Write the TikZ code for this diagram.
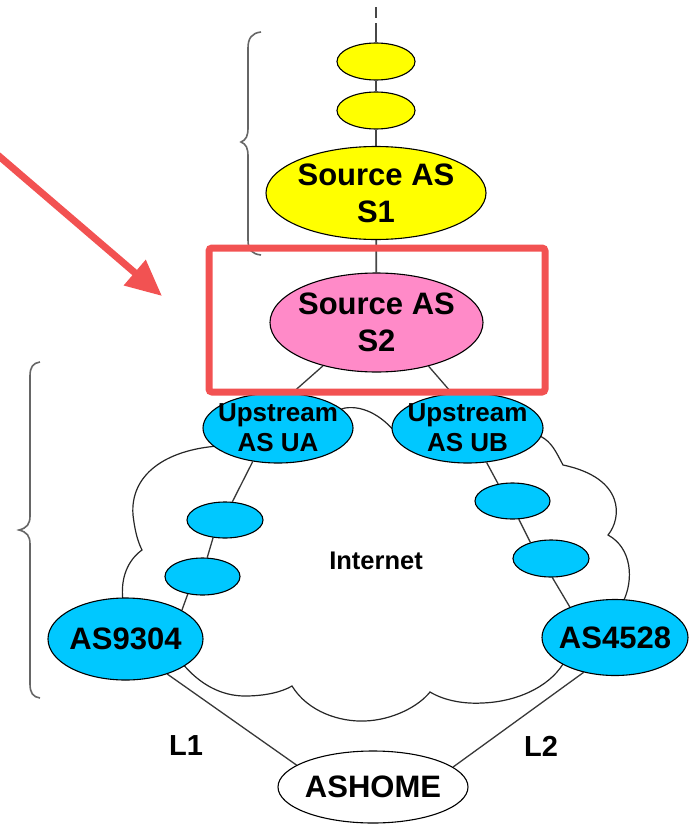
\documentclass[tikz,border=0pt]{standalone}
\usepackage{fontspec}
\setmainfont{Liberation Sans}
\usetikzlibrary{shapes.geometric,arrows.meta,backgrounds}
\definecolor{asyellow}{HTML}{FFFF00}
\definecolor{aspink}{HTML}{FF8AC8}
\definecolor{ascyan}{HTML}{00C8FF}
\definecolor{markred}{HTML}{F25252}
\begin{document}
\begin{tikzpicture}[x=1pt,y=-1pt,
  asnode/.style={ellipse, draw=black, line width=1.1pt, inner xsep=-20pt, inner ysep=-20pt, align=center, text=black},
  yel/.style={asnode, fill=asyellow},
  pnk/.style={asnode, fill=aspink},
  cyn/.style={asnode, fill=ascyan},
  wht/.style={asnode, fill=white},
  bigfont/.style={font=\fontsize{31}{37}\selectfont\bfseries},
  upfont/.style={font=\fontsize{26}{30}\selectfont\bfseries},
  lblfont/.style={font=\fontsize{29}{34}\selectfont\bfseries},
  intfont/.style={font=\fontsize{25.5}{30}\selectfont\bfseries},
  conn/.style={draw=black!78, line width=1.3pt},
  vconn/.style={draw=black!72, line width=1.8pt},
  cloudline/.style={draw=black!85, line width=1.2pt, fill=white},
  bracestyle/.style={draw=black!60, line width=1.6pt},
  redmark/.style={draw=markred, line width=7pt}
]
\useasboundingbox (0,0) rectangle (690,827);

% nodes
\node[yel, minimum width=78pt, minimum height=37pt] (e1) at (376,61.5) {};
\node[yel, minimum width=78pt, minimum height=37pt] (e2) at (376,110.5) {};
\node[yel, bigfont, minimum width=220pt, minimum height=93pt] (s1) at (376,193) {Source AS\\S1};
\node[pnk, bigfont, minimum width=213pt, minimum height=99pt] (s2) at (376.5,322.5) {Source AS\\S2};
\node[cyn, upfont, minimum width=150pt, minimum height=70pt] (ua) at (278,428) {Upstream\\AS UA};
\node[cyn, upfont, minimum width=151pt, minimum height=70pt] (ub) at (467.5,428) {Upstream\\AS UB};
\node[cyn, minimum width=76pt, minimum height=36pt] (ua1) at (225,520) {};
\node[cyn, minimum width=75pt, minimum height=37pt] (ua2) at (202.5,576.5) {};
\node[cyn, minimum width=75pt, minimum height=36pt] (ub1) at (512.5,501) {};
\node[cyn, minimum width=76pt, minimum height=37pt] (ub2) at (551,558.5) {};
\node[cyn, bigfont, minimum width=155pt, minimum height=82pt] (as9304) at (125.5,639) {AS9304};
\node[cyn, bigfont, minimum width=146pt, minimum height=76pt] (as4528) at (615,637.5) {AS4528};
\node[wht, bigfont, minimum width=190pt, minimum height=72pt] (ashome) at (373,787) {ASHOME};
\node[intfont] (internet) at (376,561) {Internet};
\node[lblfont] (l1) at (186,746) {L1};
\node[lblfont] (l2) at (541,746) {L2};
\coordinate (topend) at (376,7);

\begin{pgfonlayer}{background}
% cloud
\path[cloudline] (278,428) -- (218,446)
  .. controls (165,450) and (130,475) .. (133,515)
  .. controls (135,532) and (138,542) .. (142,550)
  .. controls (128,560) and (120,578) .. (123,601)
  -- (126,637) -- (182,663)
  .. controls (200,685) and (222,696) .. (245,696)
  .. controls (265,696) and (282,692) .. (292,686)
  .. controls (308,712) and (340,722) .. (365,721)
  .. controls (392,720) and (418,707) .. (430,692)
  .. controls (445,701) and (465,704) .. (482,703)
  .. controls (515,702) and (548,688) .. (563,664)
  -- (615,637) -- (623,602)
  .. controls (634,580) and (632,548) .. (608,535)
  .. controls (622,518) and (625,478) .. (563,465)
  .. controls (556,452) and (552,442) .. (540,436)
  -- (467.5,428) -- (398,436)
  .. controls (385,418) and (365,405) .. (345,408)
  -- cycle;
% connectors
\draw[vconn, dash pattern=on 11pt off 5pt on 40pt off 5pt] (topend) -- (e1.north);
\draw[vconn] (e1) -- (e2);
\draw[vconn] (e2) -- (s1);
\draw[vconn] (s1) -- (s2);
\draw[conn] (s2.-141) -- (ua.68);
\draw[conn] (s2.-40) -- (ub.114);
\draw[conn] (ua.-127) -- (ua1.68);
\draw[conn] (ua1.-124) -- (ua2.76);
\draw[conn] (ua2.-130) -- (as9304.27);
\draw[conn] (ub.-61) -- (ub1.130);
\draw[conn] (ub1.-71) -- (ub2.142);
\draw[conn] (ub2.-86) -- (as4528.146);
\draw[conn] (as9304.-40) -- (ashome.164);
\draw[conn] (as4528.-132) -- (ashome.14);
\end{pgfonlayer}

% braces
\draw[bracestyle] (261,32) .. controls (252,33) and (248,38) .. (248,48) -- (248,128)
  .. controls (248,136) and (246,140) .. (241,142)
  .. controls (246,144) and (248,148) .. (248,156) -- (248,240)
  .. controls (248,250) and (252,254) .. (261,255);
\draw[bracestyle] (40,362) .. controls (33,363) and (30,367) .. (30,376) -- (30,516)
  .. controls (30,524) and (27,528) .. (19,530)
  .. controls (27,532) and (30,536) .. (30,544) -- (30,684)
  .. controls (30,693) and (33,697) .. (40,698);

% red highlight
\draw[redmark, rounded corners=3pt] (209,248) rectangle (545,392);
\coordinate (arrowstart) at (-10,148.4);
\coordinate (arrowtip) at (162,296);
\draw[redmark, -{Triangle[length=36pt,width=32pt]}] (arrowstart) -- (arrowtip);
\end{tikzpicture}
\end{document}
